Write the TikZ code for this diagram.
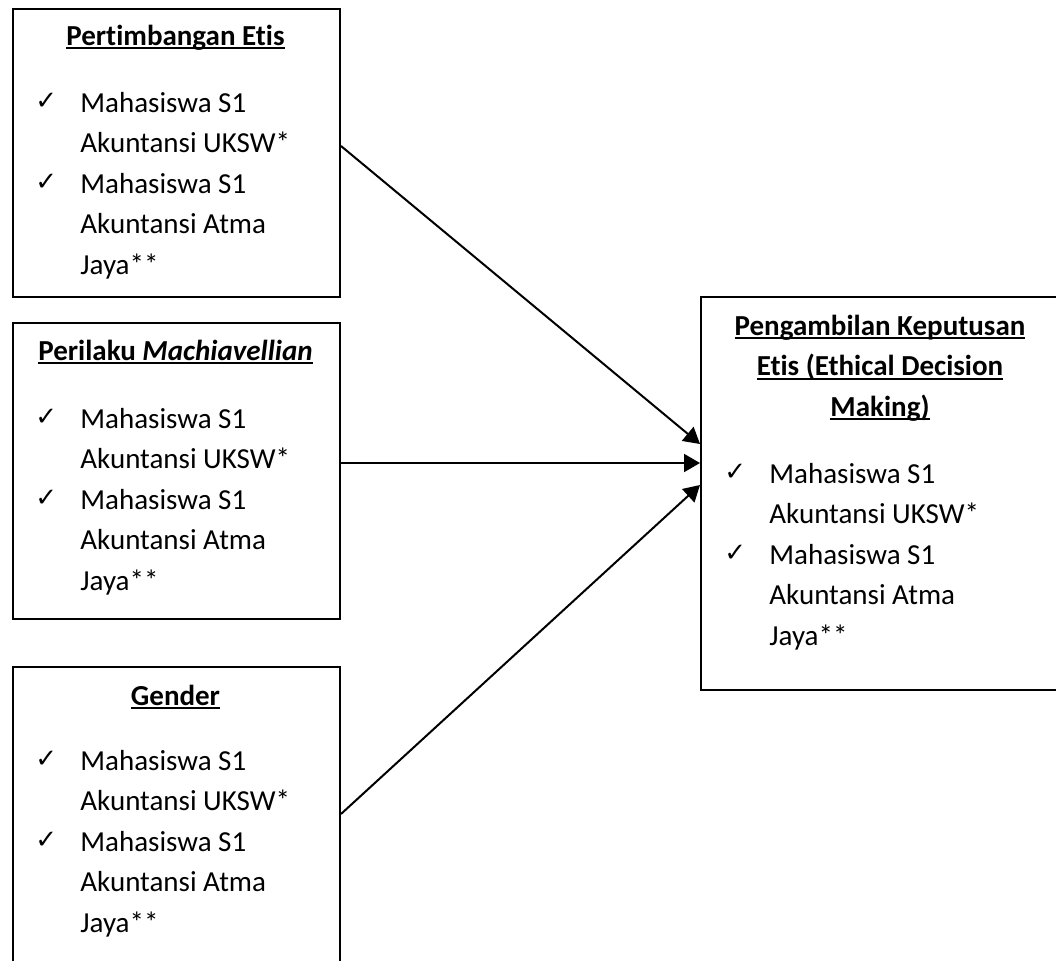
\documentclass[tikz,border=0pt]{standalone}
\usepackage{fontspec}
\setmainfont{Carlito}[RawFeature={-liga;-clig;-dlig}]
\newfontfamily\tickfont{DejaVu Sans}
\usetikzlibrary{arrows.meta}

\newcommand\fs{\fontsize{14.5pt}{20.25pt}\selectfont}
\newcommand\undl[1]{\setbox0\hbox{#1}\rlap{\rule[-2pt]{\wd0}{1pt}}\box0}

\tikzset{
  box/.style={draw, line width=1pt, anchor=north west, inner sep=0pt},
  ttl/.style={anchor=base, font=\fs\bfseries},
  itm/.style={anchor=base west, inner sep=0pt, font=\fs},
  tck/.style={anchor=base west, inner sep=0pt, font=\tickfont\fontsize{13pt}{13pt}\selectfont},
  arr/.style={line width=1pt, -{Triangle[length=8pt,width=9pt]}}
}

\begin{document}
\begin{tikzpicture}[x=0.5pt,y=-0.5pt]
\useasboundingbox (0,0) rectangle (1056,960);

% boxes
\node[box, minimum width=163.5pt, minimum height=144pt] (pe) at (12,8) {};
\node[box, minimum width=163.5pt, minimum height=148pt] (pm) at (12,322) {};
\node[box, minimum width=163.5pt, minimum height=170pt] (gd) at (12,666) {};
\node[box, minimum width=185pt, minimum height=196.5pt] (pk) at (700,296) {};

% titles
\node[ttl] (pe-t) at (175.5,45) {\undl{Pertimbangan Etis}};
\node[ttl] (pm-t) at (175.5,360) {\undl{Perilaku \textit{Machiavellian}}};
\node[ttl] (gd-t) at (175.5,705) {\undl{Gender}};
\node[ttl] (pk-t1) at (880,335) {\undl{Pengambilan Keputusan}};
\node[ttl] (pk-t2) at (880,375.5) {\undl{Etis (Ethical Decision}};
\node[ttl] (pk-t3) at (880,416) {\undl{Making)}};

% lists
\foreach \b/\tx/\y in {pe/80/112, pm/80/428, gd/80/770, pk/769/483} {
  \node[tck] (\b-c1) at (\tx-45,\y-3) {✓};
  \node[tck] (\b-c2) at (\tx-45,\y+78) {✓};
  \foreach \s [count=\i from 0] in {Mahasiswa S1, Akuntansi UKSW*, Mahasiswa S1, Akuntansi Atma, Jaya**}
    \node[itm] (\b-l\i) at (\tx,\y+40.5*\i) {\s};
}

% arrows
\draw[arr] ([yshift=3.5pt]pe.east) -- ([yshift=24.75pt]pk.west);
\draw[arr] ([yshift=4pt]pm.east) -- ([yshift=15.25pt]pk.west);
\draw[arr] ([yshift=11.5pt]gd.east) -- ([yshift=4.25pt]pk.west);
\end{tikzpicture}
\end{document}
